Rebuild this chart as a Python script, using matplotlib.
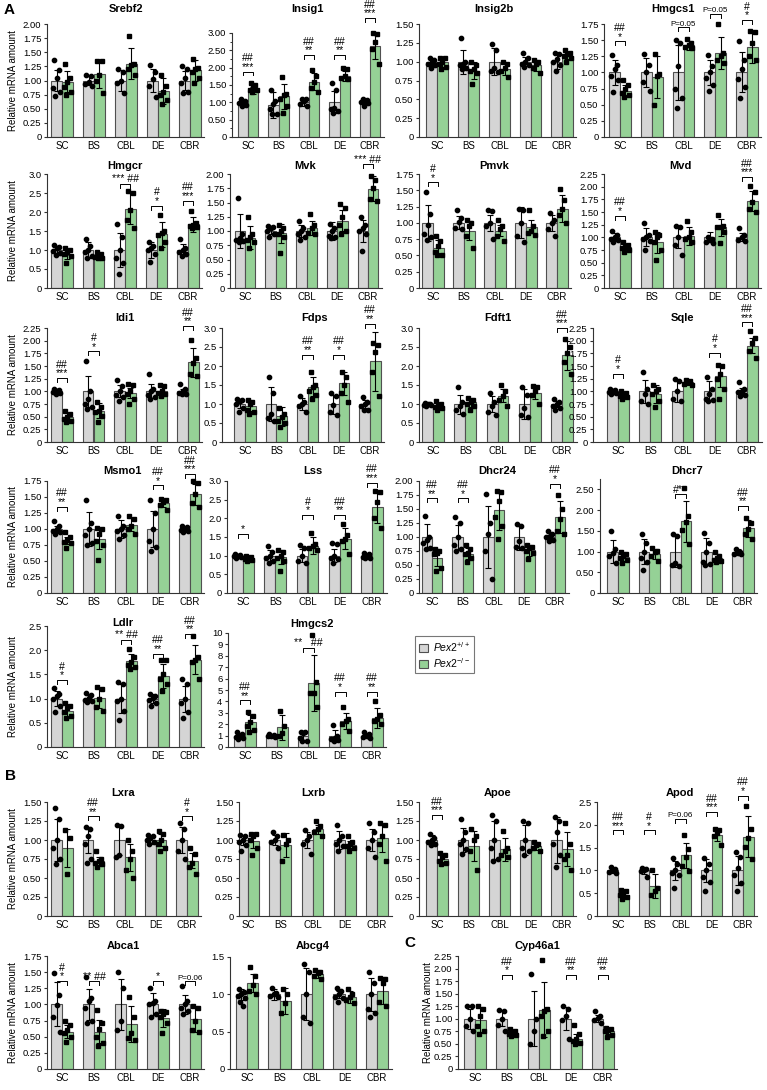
import matplotlib.pyplot as plt
from matplotlib.patches import Patch

plt.rcParams['font.family'] = ['Liberation Sans', 'DejaVu Sans']
plt.rcParams['mathtext.fontset'] = 'custom'
plt.rcParams['mathtext.it'] = 'Liberation Sans:italic'
plt.rcParams['mathtext.rm'] = 'Liberation Sans'

REGIONS = ['SC', 'BS', 'CBL', 'DE', 'CBR']
GENES = ['Srebf2', 'Insig1', 'Insig2b', 'Hmgcs1', 'Hmgcr', 'Mvk', 'Pmvk', 'Mvd',
         'Idi1', 'Fdps', 'Fdft1', 'Sqle', 'Msmo1', 'Lss', 'Dhcr24', 'Dhcr7',
         'Ldlr', 'Hmgcs2', 'Lxra', 'Lxrb', 'Apoe', 'Apod', 'Abca1', 'Abcg4', 'Cyp46a1']

# control group is normalised to 1.0 in every region
WT_MEAN = {g: [1.0, 1.0, 1.0, 1.0, 1.0] for g in GENES}
WT_MEAN['Insig1'] = [1.0, 0.92, 1.0, 1.0, 1.0]

KO_MEAN = {
    'Srebf2': [0.98, 1.12, 1.30, 0.82, 1.18],
    'Insig1': [1.35, 1.17, 1.60, 1.76, 2.63],
    'Insig2b': [0.99, 0.88, 0.90, 0.95, 1.08],
    'Hmgcs1': [0.72, 0.93, 1.42, 1.30, 1.39],
    'Hmgcr': [0.88, 0.81, 2.09, 1.42, 1.68],
    'Mvk': [0.88, 0.96, 1.05, 1.18, 1.74],
    'Pmvk': [0.62, 0.88, 0.88, 0.94, 1.22],
    'Mvd': [0.80, 0.90, 1.02, 1.20, 1.72],
    'Idi1': [0.50, 0.62, 0.97, 1.00, 1.57],
    'Fdps': [0.95, 0.68, 1.45, 1.55, 2.12],
    'Fdft1': [0.95, 1.05, 1.22, 1.30, 2.28],
    'Sqle': [0.92, 0.95, 1.18, 1.30, 1.90],
    'Msmo1': [0.82, 0.85, 1.07, 1.40, 1.54],
    'Lss': [0.92, 0.97, 1.27, 1.45, 2.30],
    'Dhcr24': [0.63, 0.70, 1.48, 0.76, 1.36],
    'Dhcr7': [0.88, 0.95, 1.73, 0.85, 1.56],
    'Ldlr': [0.75, 1.01, 1.78, 1.47, 1.80],
    'Hmgcs2': [2.15, 1.75, 5.60, 2.30, 2.55],
    'Lxra': [0.90, 0.72, 0.77, 1.00, 0.73],
    'Lxrb': [0.99, 0.93, 1.14, 0.94, 1.02],
    'Apoe': [0.75, 0.92, 0.88, 0.92, 0.88],
    'Apod': [0.47, 0.66, 1.33, 1.78, 1.74],
    'Abca1': [0.58, 0.58, 0.70, 0.79, 0.78],
    'Abcg4': [1.15, 0.91, 1.27, 0.96, 1.05],
    'Cyp46a1': [0.98, 0.72, 1.18, 0.60, 0.75],
}

WT_SD = {
    'Srebf2': [0.18, 0.08, 0.18, 0.20, 0.17],
    'Insig1': [0.07, 0.38, 0.10, 0.32, 0.06],
    'Insig2b': [0.05, 0.16, 0.18, 0.06, 0.10],
    'Hmgcs1': [0.19, 0.22, 0.42, 0.20, 0.31],
    'Hmgcr': [0.10, 0.20, 0.45, 0.22, 0.15],
    'Mvk': [0.30, 0.05, 0.10, 0.15, 0.20],
    'Pmvk': [0.28, 0.10, 0.12, 0.24, 0.12],
    'Mvd': [0.08, 0.18, 0.22, 0.10, 0.08],
    'Idi1': [0.05, 0.31, 0.12, 0.14, 0.04],
    'Fdps': [0.10, 0.45, 0.15, 0.25, 0.10],
    'Fdft1': [0.03, 0.25, 0.20, 0.40, 0.08],
    'Sqle': [0.05, 0.23, 0.22, 0.20, 0.06],
    'Msmo1': [0.05, 0.26, 0.14, 0.28, 0.03],
    'Lss': [0.03, 0.15, 0.18, 0.18, 0.05],
    'Dhcr24': [0.23, 0.22, 0.56, 0.24, 0.07],
    'Dhcr7': [0.28, 0.30, 0.38, 0.33, 0.05],
    'Ldlr': [0.15, 0.08, 0.30, 0.10, 0.27],
    'Hmgcs2': [0.20, 0.10, 0.40, 0.45, 0.20],
    'Lxra': [0.27, 0.17, 0.20, 0.05, 0.17],
    'Lxrb': [0.06, 0.07, 0.10, 0.12, 0.15],
    'Apoe': [0.07, 0.16, 0.25, 0.20, 0.30],
    'Apod': [0.05, 0.08, 0.20, 0.25, 0.32],
    'Abca1': [0.34, 0.24, 0.39, 0.17, 0.15],
    'Abcg4': [0.07, 0.07, 0.35, 0.05, 0.22],
    'Cyp46a1': [0.20, 0.15, 0.55, 0.23, 0.07],
}

KO_SD = {
    'Srebf2': [0.18, 0.25, 0.27, 0.23, 0.18],
    'Insig1': [0.10, 0.35, 0.25, 0.15, 0.37],
    'Insig2b': [0.06, 0.11, 0.08, 0.07, 0.05],
    'Hmgcs1': [0.08, 0.32, 0.07, 0.25, 0.24],
    'Hmgcr': [0.12, 0.08, 0.40, 0.33, 0.20],
    'Mvk': [0.20, 0.17, 0.12, 0.18, 0.22],
    'Pmvk': [0.12, 0.15, 0.08, 0.10, 0.20],
    'Mvd': [0.07, 0.20, 0.18, 0.17, 0.20],
    'Idi1': [0.08, 0.15, 0.10, 0.08, 0.28],
    'Fdps': [0.13, 0.25, 0.25, 0.30, 0.77],
    'Fdft1': [0.07, 0.12, 0.18, 0.18, 0.38],
    'Sqle': [0.06, 0.18, 0.05, 0.22, 0.15],
    'Msmo1': [0.06, 0.17, 0.10, 0.06, 0.16],
    'Lss': [0.05, 0.18, 0.22, 0.28, 0.42],
    'Dhcr24': [0.15, 0.10, 0.35, 0.10, 0.29],
    'Dhcr7': [0.10, 0.12, 0.50, 0.08, 0.20],
    'Ldlr': [0.12, 0.20, 0.15, 0.25, 0.30],
    'Hmgcs2': [0.70, 1.10, 2.45, 0.70, 0.90],
    'Lxra': [0.25, 0.06, 0.18, 0.08, 0.10],
    'Lxrb': [0.10, 0.16, 0.06, 0.05, 0.18],
    'Apoe': [0.05, 0.20, 0.15, 0.05, 0.22],
    'Apod': [0.06, 0.27, 0.28, 0.13, 0.45],
    'Abca1': [0.10, 0.18, 0.28, 0.14, 0.20],
    'Abcg4': [0.12, 0.17, 0.05, 0.08, 0.18],
    'Cyp46a1': [0.25, 0.06, 0.55, 0.10, 0.06],
}

WT_PTS = {
    'Srebf2': [[1.36, 1.18, 1.04, 0.87, 0.80, 0.72], [1.10, 1.08, 0.98, 0.93, 0.90],
               [1.20, 1.15, 1.00, 0.95, 0.78], [1.27, 1.15, 1.02, 0.90, 0.70],
               [1.25, 1.20, 1.05, 0.95, 0.80, 0.78]],
    'Insig1': [[1.10, 1.05, 1.00, 0.97, 0.93, 0.90], [1.35, 1.05, 0.95, 0.80, 0.65, 0.65],
               [1.10, 1.10, 1.05, 0.95, 0.88], [1.55, 1.35, 0.85, 0.80, 0.75, 0.70],
               [1.10, 1.07, 1.03, 1.00, 0.97, 0.90]],
    'Insig2b': [[1.05, 1.02, 1.00, 0.97, 0.95, 0.92], [1.32, 1.00, 0.97, 0.95, 0.92, 0.90],
                [1.23, 1.15, 0.92, 0.88, 0.86], [1.12, 1.05, 1.00, 0.97, 0.95, 0.93],
                [1.12, 1.10, 1.03, 1.00, 0.95, 0.88]],
    'Hmgcs1': [[1.27, 1.12, 1.05, 0.95, 0.88, 0.70], [1.28, 1.12, 1.00, 0.85, 0.72],
               [1.50, 1.45, 1.10, 0.75, 0.60, 0.45], [1.27, 1.10, 1.00, 0.92, 0.80, 0.72],
               [1.48, 1.20, 1.05, 0.90, 0.78, 0.60]],
    'Hmgcr': [[1.12, 1.08, 1.05, 0.98, 0.92, 0.88], [1.30, 1.10, 1.00, 0.95, 0.85, 0.80],
              [1.68, 1.35, 1.00, 0.80, 0.65, 0.38], [1.20, 1.10, 1.05, 1.00, 0.90, 0.68],
              [1.28, 1.05, 1.00, 0.95, 0.90, 0.85]],
    'Mvk': [[1.58, 0.95, 0.88, 0.85, 0.82, 0.80], [1.08, 1.07, 1.05, 1.00, 0.95, 0.90],
            [1.17, 1.05, 1.00, 0.95, 0.90, 0.85], [1.12, 1.05, 1.00, 0.92, 0.90, 0.88],
            [1.25, 1.10, 1.05, 1.00, 0.95, 0.65]],
    'Pmvk': [[1.48, 1.14, 0.96, 0.83, 0.78, 0.73], [1.20, 1.08, 1.02, 0.92, 0.90],
             [1.20, 1.18, 1.00, 0.95, 0.75], [1.22, 1.20, 1.00, 0.80, 0.70],
             [1.15, 1.05, 1.00, 0.90, 0.80]],
    'Mvd': [[1.12, 1.05, 1.00, 0.97, 0.95, 0.90], [1.28, 1.05, 1.00, 0.97, 0.92, 0.75],
            [1.22, 1.20, 1.00, 0.85, 0.65], [1.00, 0.97, 0.95, 0.90, 0.88],
            [1.18, 1.05, 1.00, 0.95, 0.92]],
    'Idi1': [[1.05, 1.03, 1.00, 0.98, 0.97, 0.95], [1.60, 1.00, 0.85, 0.75, 0.70, 0.65],
             [1.22, 1.10, 1.00, 0.92, 0.88, 0.80], [1.35, 1.05, 1.00, 0.92, 0.88, 0.85],
             [1.15, 1.05, 1.00, 0.97, 0.95, 0.95]],
    'Fdps': [[1.12, 1.10, 1.08, 1.00, 0.90, 0.80], [1.72, 1.28, 0.75, 0.62, 0.55],
             [1.20, 1.05, 1.00, 0.95, 0.80], [1.28, 1.22, 0.98, 0.80, 0.72],
             [1.18, 1.05, 1.00, 0.95, 0.85, 0.85]],
    'Fdft1': [[1.02, 1.00, 1.00, 0.98, 0.97, 0.95], [1.45, 1.05, 0.95, 0.85, 0.75],
              [1.30, 1.05, 0.95, 0.80, 0.72], [1.45, 1.25, 0.90, 0.70, 0.65],
              [1.12, 1.05, 1.00, 0.95, 0.90, 0.85]],
    'Sqle': [[1.05, 1.02, 1.00, 0.98, 0.97, 0.95], [1.38, 1.05, 0.95, 0.80, 0.75],
             [1.25, 1.20, 1.00, 0.85, 0.80], [1.28, 1.05, 0.95, 0.85, 0.82, 0.80],
             [1.18, 1.05, 1.00, 0.98, 0.92, 0.90]],
    'Msmo1': [[1.12, 1.05, 1.00, 0.97, 0.95, 0.92], [1.46, 1.10, 1.00, 0.90, 0.78, 0.75],
              [1.20, 1.05, 1.00, 0.97, 0.90, 0.85], [1.45, 1.25, 1.00, 0.82, 0.72, 0.65],
              [1.05, 1.03, 1.00, 0.98, 0.97, 0.95]],
    'Lss': [[1.05, 1.03, 1.00, 0.98, 0.97, 0.95], [1.25, 1.10, 1.00, 0.95, 0.85, 0.80],
            [1.28, 1.20, 1.00, 0.85, 0.80], [1.35, 1.30, 1.00, 0.95, 0.90, 0.80],
            [1.08, 1.05, 1.00, 0.97, 0.95, 0.93]],
    'Dhcr24': [[1.38, 1.00, 0.95, 0.90, 0.80, 0.78], [1.35, 1.25, 1.00, 0.85, 0.78, 0.75],
               [1.77, 1.25, 1.05, 0.75, 0.25], [1.23, 1.20, 0.92, 0.82, 0.80],
               [1.10, 1.05, 1.02, 1.00, 0.95, 0.92]],
    'Dhcr7': [[1.50, 1.05, 0.97, 0.90, 0.72], [1.43, 1.20, 1.00, 0.85, 0.75, 0.55],
              [1.42, 1.38, 0.72, 0.68, 0.65], [1.45, 1.20, 1.00, 0.75, 0.70, 0.68],
              [1.05, 1.00, 0.97, 0.95, 0.95]],
    'Ldlr': [[1.22, 1.10, 1.05, 1.00, 0.85, 0.72], [1.12, 1.08, 1.02, 0.98, 0.95, 0.93],
             [1.35, 1.30, 1.00, 0.95, 0.75, 0.55], [1.10, 1.05, 1.02, 0.97, 0.90, 0.85],
             [1.40, 1.30, 1.00, 0.90, 0.72, 0.60]],
    'Hmgcs2': [[1.3, 1.1, 1.0, 0.9, 0.8, 0.7], [1.1, 1.05, 1.0, 0.95, 0.9],
               [1.3, 1.3, 1.2, 0.8, 0.5, 0.5], [1.9, 1.0, 0.8, 0.7, 0.6, 0.5],
               [1.3, 1.1, 1.0, 0.9, 0.8]],
    'Lxra': [[1.42, 1.27, 1.00, 0.90, 0.75, 0.68], [1.17, 1.15, 1.05, 0.95, 0.75, 0.70],
             [1.20, 1.18, 0.80, 0.78], [1.07, 1.05, 1.03, 1.00, 0.97, 0.95],
             [1.22, 1.15, 1.00, 0.85, 0.75]],
    'Lxrb': [[1.07, 1.05, 1.00, 0.97, 0.93, 0.85], [1.10, 1.05, 1.00, 0.97, 0.90],
             [1.13, 1.05, 1.00, 0.95, 0.82], [1.20, 1.05, 1.00, 0.95, 0.92, 0.85],
             [1.22, 1.10, 1.00, 0.90, 0.78]],
    'Apoe': [[1.08, 1.02, 1.00, 0.97, 0.95, 0.93], [1.28, 1.10, 1.00, 0.95, 0.88, 0.82],
             [1.33, 1.25, 1.00, 0.90, 0.75, 0.72], [1.25, 1.22, 1.00, 0.90, 0.85, 0.80],
             [1.30, 1.25, 1.10, 0.95, 0.80, 0.65]],
    'Apod': [[1.07, 1.03, 1.00, 0.97, 0.95], [1.05, 1.03, 1.00, 0.98, 0.85],
             [1.28, 1.15, 1.00, 0.95, 0.90, 0.62], [1.28, 1.15, 1.00, 0.85, 0.75, 0.55],
             [1.40, 1.30, 1.05, 0.90, 0.72, 0.55]],
    'Abca1': [[1.49, 1.14, 0.99, 0.80, 0.58], [1.42, 1.10, 1.05, 0.95, 0.75, 0.72],
              [1.50, 1.25, 0.75, 0.60], [1.25, 1.05, 1.02, 1.00, 0.85, 0.80],
              [1.28, 1.05, 1.00, 0.95, 0.90, 0.85]],
    'Abcg4': [[1.07, 1.03, 1.00, 0.98, 0.95, 0.90, 0.85], [1.08, 1.02, 1.00, 0.98, 0.97],
              [1.40, 1.30, 1.00, 0.70, 0.62], [1.08, 1.05, 1.00, 0.97, 0.95, 0.90],
              [1.30, 1.15, 1.00, 0.80, 0.75, 0.70]],
    'Cyp46a1': [[1.25, 1.25, 1.00, 0.85, 0.75], [1.18, 1.15, 1.00, 0.88, 0.75],
                [1.90, 1.00, 0.75, 0.50], [1.25, 1.20, 1.05, 0.97, 0.60],
                [1.15, 1.05, 1.02, 0.98, 0.92]],
}

KO_PTS = {
    'Srebf2': [[1.30, 1.05, 0.97, 0.88, 0.80, 0.75], [1.35, 1.35, 1.10, 1.00, 0.78],
               [1.78, 1.30, 1.28, 1.20, 1.10], [1.10, 0.90, 0.80, 0.75, 0.65, 0.58],
               [1.38, 1.22, 1.20, 1.15, 1.05, 0.95]],
    'Insig1': [[1.57, 1.50, 1.45, 1.35, 1.35, 1.30], [1.72, 1.25, 1.20, 1.10, 0.90, 0.70],
               [1.92, 1.75, 1.60, 1.40, 1.30], [2.00, 1.95, 1.75, 1.70, 1.68],
               [3.00, 2.98, 2.75, 2.55, 2.10]],
    'Insig2b': [[1.05, 1.05, 1.00, 0.97, 0.93, 0.90], [1.00, 0.95, 0.90, 0.88, 0.85, 0.70],
                [1.00, 0.97, 0.92, 0.87, 0.80], [1.02, 1.00, 0.97, 0.92, 0.85],
                [1.16, 1.12, 1.10, 1.08, 1.05, 1.00]],
    'Hmgcs1': [[0.88, 0.80, 0.75, 0.68, 0.65, 0.62], [1.28, 0.97, 0.95, 0.50],
               [1.52, 1.45, 1.42, 1.40, 1.38], [1.75, 1.30, 1.25, 1.20, 1.15],
               [1.64, 1.62, 1.45, 1.25, 1.20]],
    'Hmgcr': [[1.05, 1.00, 0.95, 0.90, 0.85, 0.65], [0.95, 0.90, 0.85, 0.82, 0.80, 0.78],
              [2.55, 2.50, 2.05, 1.78, 1.57], [1.92, 1.50, 1.45, 1.40, 1.20, 1.05],
              [2.02, 1.72, 1.65, 1.62, 1.60, 1.58]],
    'Mvk': [[1.25, 0.95, 0.90, 0.85, 0.80, 0.70], [1.10, 1.05, 1.00, 0.95, 0.90, 0.62],
            [1.30, 1.10, 1.05, 0.97, 0.95], [1.48, 1.40, 1.25, 1.10, 1.00, 0.95],
            [1.97, 1.90, 1.75, 1.56, 1.52]],
    'Pmvk': [[0.80, 0.72, 0.65, 0.55, 0.50, 0.50], [1.05, 1.00, 0.95, 0.80, 0.62],
             [1.05, 0.95, 0.90, 0.80, 0.72], [1.20, 0.95, 0.88, 0.85, 0.82],
             [1.52, 1.35, 1.22, 1.12, 1.00]],
    'Mvd': [[0.90, 0.85, 0.80, 0.78, 0.75, 0.72], [1.10, 1.05, 1.00, 0.90, 0.75, 0.55],
            [1.32, 1.10, 1.00, 0.97, 0.90], [1.45, 1.22, 1.20, 1.20, 1.10, 0.88],
            [2.02, 1.90, 1.70, 1.55, 1.50]],
    'Idi1': [[0.62, 0.55, 0.50, 0.45, 0.42, 0.40], [0.78, 0.70, 0.62, 0.60, 0.52, 0.40],
             [1.15, 1.12, 1.00, 0.95, 0.85, 0.75], [1.12, 1.10, 1.00, 0.97, 0.95, 0.90],
             [2.02, 1.65, 1.55, 1.35, 1.30]],
    'Fdps': [[1.10, 1.05, 1.00, 0.85, 0.80, 0.75], [0.90, 0.75, 0.65, 0.55, 0.50, 0.40],
             [1.85, 1.50, 1.45, 1.35, 1.25, 1.12], [1.85, 1.70, 1.50, 1.30, 1.05],
             [2.60, 2.55, 2.38, 1.85, 1.20]],
    'Fdft1': [[1.08, 1.00, 0.95, 0.92, 0.90, 0.85], [1.15, 1.10, 1.05, 1.00, 0.95, 0.85],
              [1.50, 1.35, 1.20, 1.10, 0.95], [1.48, 1.45, 1.35, 1.25, 1.00],
              [2.70, 2.50, 2.35, 2.10, 1.80]],
    'Sqle': [[1.00, 0.97, 0.92, 0.90, 0.88, 0.85], [1.12, 1.05, 1.00, 0.95, 0.80, 0.70],
             [1.22, 1.20, 1.18, 1.15, 1.12], [1.52, 1.50, 1.35, 1.25, 1.05, 0.85],
             [2.20, 2.05, 1.95, 1.80, 1.65]],
    'Msmo1': [[0.95, 0.88, 0.83, 0.80, 0.78, 0.70], [1.02, 1.00, 0.92, 0.82, 0.75, 0.52],
              [1.20, 1.15, 1.05, 1.00, 0.92], [1.47, 1.45, 1.42, 1.38, 1.30],
              [1.75, 1.72, 1.55, 1.40, 1.35]],
    'Lss': [[1.00, 0.97, 0.93, 0.90, 0.88, 0.85], [1.15, 1.10, 1.00, 0.95, 0.85, 0.60],
            [1.62, 1.30, 1.25, 1.20, 1.15], [1.85, 1.55, 1.45, 1.40, 1.05],
            [2.72, 2.70, 2.45, 2.00, 1.75]],
    'Dhcr24': [[0.78, 0.75, 0.72, 0.70, 0.45, 0.40], [0.85, 0.78, 0.72, 0.70, 0.62, 0.55],
               [1.82, 1.80, 1.65, 1.35, 1.20, 0.97], [0.85, 0.82, 0.80, 0.75, 0.72, 0.60],
               [1.75, 1.50, 1.32, 1.10, 1.05]],
    'Dhcr7': [[1.00, 0.95, 0.90, 0.85, 0.80, 0.72], [1.08, 1.02, 1.00, 0.90, 0.78],
              [2.54, 1.85, 1.72, 1.53, 1.19], [1.00, 0.90, 0.85, 0.80, 0.78, 0.75],
              [1.82, 1.70, 1.55, 1.42, 1.30]],
    'Ldlr': [[0.90, 0.85, 0.80, 0.72, 0.65, 0.60], [1.25, 1.20, 1.00, 0.82, 0.75],
             [2.02, 1.85, 1.75, 1.70, 1.65, 1.62], [1.80, 1.80, 1.50, 1.40, 1.30, 1.15],
             [2.30, 1.85, 1.80, 1.75, 1.40]],
    'Hmgcs2': [[3.1, 2.7, 2.2, 1.8, 1.5, 1.3], [3.2, 1.8, 1.2, 1.0],
               [9.8, 5.7, 4.7, 4.7, 3.5], [3.5, 2.5, 2.3, 2.0, 1.4],
               [4.0, 2.8, 2.5, 2.3, 2.0]],
    'Lxra': [[1.13, 1.03, 0.55], [0.85, 0.75, 0.72, 0.70, 0.68, 0.65],
             [1.00, 0.85, 0.75, 0.60, 0.50], [1.12, 1.08, 1.00, 0.95, 0.90, 0.85],
             [0.90, 0.82, 0.70, 0.65, 0.55]],
    'Lxrb': [[1.08, 1.08, 1.05, 1.00, 0.90, 0.80], [1.07, 1.00, 0.95, 0.72],
             [1.25, 1.18, 1.15, 1.10, 1.05], [1.05, 0.98, 0.95, 0.92, 0.90, 0.85],
             [1.22, 1.20, 1.05, 0.95, 0.72]],
    'Apoe': [[0.83, 0.80, 0.77, 0.73, 0.70, 0.68], [1.15, 1.05, 1.00, 0.85, 0.60],
             [1.12, 0.90, 0.85, 0.80, 0.78], [0.97, 0.95, 0.93, 0.90, 0.85],
             [1.22, 0.95, 0.80, 0.75, 0.60]],
    'Apod': [[0.57, 0.55, 0.48, 0.45, 0.42, 0.38], [1.00, 0.62, 0.55, 0.45],
             [1.78, 1.48, 1.30, 1.10, 0.98], [1.90, 1.88, 1.82, 1.75, 1.55],
             [2.42, 1.90, 1.70, 1.52, 1.25]],
    'Abca1': [[0.75, 0.68, 0.60, 0.55, 0.50, 0.42], [0.92, 0.72, 0.62, 0.50, 0.40, 0.35],
              [1.12, 0.80, 0.55, 0.48, 0.45], [0.90, 0.88, 0.85, 0.80, 0.72, 0.55],
              [0.97, 0.95, 0.75, 0.60, 0.58]],
    'Abcg4': [[1.37, 1.25, 1.12, 1.05, 1.00], [1.07, 1.00, 0.88, 0.75],
              [1.33, 1.30, 1.28, 1.25, 1.20], [1.07, 1.00, 0.97, 0.92, 0.88],
              [1.22, 1.20, 1.15, 0.90, 0.85]],
    'Cyp46a1': [[1.25, 1.20, 1.05, 0.85, 0.75, 0.70], [0.80, 0.75, 0.72, 0.70, 0.68, 0.65],
                [2.18, 1.20, 1.15, 1.05, 0.75, 0.65], [0.88, 0.70, 0.60, 0.55, 0.52, 0.50],
                [0.82, 0.80, 0.78, 0.75, 0.68, 0.63]],
}

# y axis: (axis top, last tick, tick step, decimals)
Y_AXIS = {
    'Srebf2': (2.0, 2.0, 0.25, 2), 'Insig1': (3.0, 3.0, 0.5, 2), 'Insig2b': (1.5, 1.5, 0.25, 2),
    'Hmgcs1': (1.75, 1.75, 0.25, 2), 'Hmgcr': (3.0, 3.0, 0.5, 1), 'Mvk': (2.0, 2.0, 0.25, 2),
    'Pmvk': (1.75, 1.75, 0.25, 2), 'Mvd': (2.25, 2.25, 0.25, 2), 'Idi1': (2.25, 2.25, 0.25, 2),
    'Fdps': (3.0, 3.0, 0.5, 1), 'Fdft1': (3.0, 3.0, 0.5, 1), 'Sqle': (2.25, 2.25, 0.25, 2),
    'Msmo1': (1.75, 1.75, 0.25, 2), 'Lss': (3.0, 3.0, 0.5, 1), 'Dhcr24': (2.0, 2.0, 0.25, 2),
    'Dhcr7': (2.75, 2.5, 0.5, 2), 'Ldlr': (2.5, 2.5, 0.5, 1), 'Hmgcs2': (10, 10, 1, 0),
    'Lxra': (1.5, 1.5, 0.25, 2), 'Lxrb': (1.5, 1.5, 0.25, 2), 'Apoe': (1.5, 1.5, 0.25, 2),
    'Apod': (2.5, 2.5, 0.5, 1), 'Abca1': (1.75, 1.75, 0.25, 2), 'Abcg4': (1.5, 1.5, 0.5, 1),
    'Cyp46a1': (2.25, 2.25, 0.25, 2),
}

# significance marks: (region index, bracket height, label lines top->bottom, x shift)
SIG = {
    'Insig1': [(0, 1.88, '##\n***', 0), (2, 2.36, '##\n**', 0), (3, 2.36, '##\n**', 0),
               (4, 3.43, '##\n***', 0)],
    'Hmgcs1': [(0, 1.48, '##\n*', 0), (2, 1.70, 'P=0.05', 0), (3, 1.91, 'P=0.05', 0),
               (4, 1.81, '#\n*', 0)],
    'Hmgcr': [(2, 2.74, '*** ##', 0), (3, 2.17, '#\n*', 0), (4, 2.30, '##\n***', 0)],
    'Mvk': [(4, 2.17, '*** ##', 0)],
    'Pmvk': [(0, 1.62, '#\n*', 0)],
    'Mvd': [(0, 1.43, '##\n*', 0), (4, 2.19, '##\n***', 0)],
    'Idi1': [(0, 1.26, '##\n***', 0), (1, 1.79, '#\n*', 0), (4, 2.29, '##\n**', 0)],
    'Fdps': [(2, 2.30, '##\n**', 0), (3, 2.30, '##\n*', 0), (4, 3.11, '##\n**', 0)],
    'Fdft1': [(4, 3.00, '##\n***', 0)],
    'Sqle': [(0, 1.35, '#\n*', 0), (3, 1.76, '#\n*', 0), (4, 2.36, '##\n***', 0)],
    'Msmo1': [(0, 1.35, '##\n**', 0), (3, 1.68, '##\n*', 0), (4, 1.86, '##\n***', 0)],
    'Lss': [(0, 1.58, '*', 0), (2, 2.09, '#\n*', 0), (3, 2.09, '##\n**', 0),
            (4, 2.95, '##\n***', 0)],
    'Dhcr24': [(0, 1.69, '##\n**', 0), (1, 1.69, '##\n*', 0), (4, 1.95, '##\n*', 0)],
    'Dhcr7': [(2, 2.38, '#*', -0.09), (4, 2.10, '##\n**', 0)],
    'Ldlr': [(0, 1.38, '#\n*', 0), (2, 2.22, '** ##', 0), (3, 1.93, '##\n**', 0),
             (4, 2.33, '##\n**', 0)],
    'Hmgcs2': [(0, 4.1, '##\n**', 0), (2, 8.7, '**   ##', 0), (3, 4.85, '##\n*', 0),
               (4, 4.85, '##\n**', 0)],
    'Lxra': [(1, 1.31, '##\n**', 0), (4, 1.31, '#\n*', 0)],
    'Apoe': [(0, 1.33, '##\n***', 0)],
    'Apod': [(0, 1.88, '##\n***', 0), (1, 1.88, '#\n*', 0), (2, 2.13, 'P=0.06', 0),
             (3, 2.28, '##\n***', 0), (4, 2.64, '##\n*', 0)],
    'Abca1': [(0, 1.36, '#\n*', 0), (1, 1.36, '** ##', 0), (3, 1.36, '*', 0),
              (4, 1.36, 'P=0.06', 0)],
    'Cyp46a1': [(1, 1.87, '##\n*', 0), (3, 1.87, '##\n**', 0), (4, 1.87, '##\n**', 0)],
}

# panel frames in pixels:
# axis left, first group centre, last group centre, axis top, zero line, title x, title y
W, H = 767, 1090
FRAMES = {
    'Srebf2': (47, 62, 190, 24, 137, 126, 9), 'Insig1': (232, 248, 370, 33, 137, 307, 9),
    'Insig2b': (419, 437, 562, 24, 137, 494, 9), 'Hmgcs1': (604, 620, 747, 24, 137, 673, 9),
    'Hmgcr': (47, 62, 188, 174, 288, 125, 166), 'Mvk': (230, 245, 368, 174, 288, 305, 166),
    'Pmvk': (419, 433, 557, 174, 288, 494, 166), 'Mvd': (604, 620, 747, 174, 288, 680, 166),
    'Idi1': (47, 62, 188, 328, 442, 125, 318), 'Fdps': (222, 245, 370, 328, 442, 315, 318),
    'Fdft1': (419, 433, 562, 328, 442, 498, 318), 'Sqle': (593, 618, 747, 328, 442, 682, 318),
    'Msmo1': (47, 62, 190, 481, 593, 122, 471), 'Lss': (227, 243, 372, 481, 593, 313, 471),
    'Dhcr24': (419, 432, 555, 481, 593, 497, 471), 'Dhcr7': (600, 618, 743, 479, 593, 687, 471),
    'Ldlr': (47, 62, 190, 626, 747, 123, 623), 'Hmgcs2': (228, 245, 372, 633, 747, 312, 624),
    'Lxra': (47, 62, 187, 802, 916, 123, 793), 'Lxrb': (239, 248, 377, 802, 916, 313, 793),
    'Apoe': (419, 437, 562, 802, 916, 498, 793), 'Apod': (597, 618, 743, 802, 916, 680, 793),
    'Abca1': (47, 62, 190, 956, 1069, 123, 946), 'Abcg4': (230, 247, 377, 957, 1069, 313, 946),
    'Cyp46a1': (458, 475, 603, 956, 1069, 537, 946),
}
YLABEL_X = {'Srebf2': 13, 'Hmgcr': 13, 'Idi1': 13, 'Msmo1': 13, 'Ldlr': 13,
            'Lxra': 13, 'Abca1': 13, 'Cyp46a1': 428}

GREY = '#d5d5d5'
GREEN = '#95d196'
EDGE = '#505050'
BW = 0.34
XRIGHT = 4.45
JIT = [-0.07, 0.07, 0.0, -0.11, 0.11, -0.035, 0.035]

fig = plt.figure(figsize=(W / 100, H / 100), dpi=100)


def draw_panel(g):
    l, c0, c4, t, b, tx, ty = FRAMES[g]
    unit = (c4 - c0) / 4.0
    xleft = -(c0 - l) / unit
    r = c4 + (XRIGHT - 4) * unit
    ax = fig.add_axes([l / W, 1 - b / H, (r - l) / W, (b - t) / H])
    top, tick_top, step, dec = Y_AXIS[g]
    x = range(len(REGIONS))
    for i in x:
        for mean, sd, pts, off, col, mk in [
                (WT_MEAN[g][i], WT_SD[g][i], WT_PTS[g][i], -BW / 2, GREY, 'o'),
                (KO_MEAN[g][i], KO_SD[g][i], KO_PTS[g][i], BW / 2, GREEN, 's')]:
            xc = i + off
            ax.bar(xc, mean, width=BW, color=col, edgecolor=EDGE, linewidth=0.8, zorder=1)
            ax.errorbar(xc, mean, yerr=sd, color='black', lw=0.8, capsize=2.5,
                        capthick=0.8, zorder=2)
            xs = [xc + JIT[k % len(JIT)] for k in range(len(pts))]
            ax.plot(xs, pts, mk, color='black', ms=3.1 if mk == 'o' else 2.9,
                    zorder=3, clip_on=False)
    for i, yb, lab, dx in SIG.get(g, []):
        drop = 0.035 * top
        x0, x1 = i - BW / 2, i + BW / 2
        ax.plot([x0, x0, x1, x1], [yb - drop, yb, yb, yb - drop], color='black',
                lw=0.7, clip_on=False)
        lines = lab.split('\n')[::-1]
        for k, line in enumerate(lines):
            small = line.startswith('P')
            ax.annotate(line, (i + dx, yb), xytext=(0, 1.2 + 6.3 * k),
                        textcoords='offset points', ha='center', va='baseline',
                        fontsize=5.8 if small else 7.6, annotation_clip=False)
    ax.set_xlim(xleft, XRIGHT)
    ax.set_ylim(0, top)
    n = int(round(tick_top / step))
    ticks = [k * step for k in range(n + 1)]
    ax.set_yticks(ticks)
    ax.set_yticklabels(['0' if v == 0 else f'{v:.{dec}f}' for v in ticks], fontsize=6.8)
    if g == 'Insig1':
        ax.set_yticks([k * 0.25 for k in range(13)], minor=True)
        ax.tick_params(axis='y', which='minor', length=1.6, width=0.7, color='#333333')
    ax.set_xticks(list(x))
    ax.set_xticklabels(REGIONS, fontsize=7)
    ax.tick_params(axis='x', length=0, pad=3)
    ax.tick_params(axis='y', which='major', length=2.5, width=0.8, pad=1.5, color='#333333')
    for s in ['top', 'right']:
        ax.spines[s].set_visible(False)
    for s in ['left', 'bottom']:
        ax.spines[s].set_linewidth(0.8)
        ax.spines[s].set_color('#333333')
    fig.text(tx / W, 1 - ty / H, g, ha='center', va='center',
             fontsize=8, fontweight='bold')
    if g in YLABEL_X:
        fig.text(YLABEL_X[g] / W, 1 - (t + b) / 2 / H, 'Relative mRNA amount',
                 rotation=90, ha='center', va='center', fontsize=7)


for g in GENES:
    draw_panel(g)

fig.text(9 / W, 1 - 10 / H, 'A', fontsize=11, fontweight='bold', ha='center', va='center')
fig.text(10 / W, 1 - 776 / H, 'B', fontsize=11, fontweight='bold', ha='center', va='center')
fig.text(410 / W, 1 - 943 / H, 'C', fontsize=11, fontweight='bold', ha='center', va='center')

handles = [Patch(facecolor=GREY, edgecolor=EDGE, lw=0.8),
           Patch(facecolor=GREEN, edgecolor=EDGE, lw=0.8)]
labels = [r'$\it{Pex2}^{+/+}$', r'$\it{Pex2}^{-/-}$']
leg = fig.legend(handles, labels, loc='upper left', bbox_to_anchor=(410 / W, 1 - 631 / H),
                 fontsize=7.5, frameon=True, fancybox=False, edgecolor='#555555',
                 handlelength=0.9, handleheight=0.9, handletextpad=0.5,
                 borderpad=0.35, labelspacing=0.2)
leg.get_frame().set_linewidth(0.8)

fig.savefig('out.png', dpi=100)
